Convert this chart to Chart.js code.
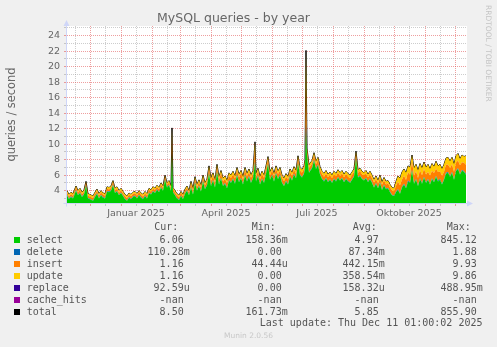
<!DOCTYPE html>
<html>
<head>
<meta charset="utf-8">
<script src="https://cdn.jsdelivr.net/npm/chart.js@4.4.1/dist/chart.umd.min.js"></script>
<style>
  body { margin: 0; background: #f0f0f0; }
  #wrap { position: relative; width: 497px; height: 347px; overflow: hidden; }
  #chart { position: absolute; left: 0; top: 0; }
  .mono { position: absolute; font: 10px 'DejaVu Sans Mono'; line-height: 12px; color: #555; white-space: pre; }
  .sw { position: absolute; width: 6px; height: 6px; }
  #rrd { position: absolute; left: 484px; top: 5px; writing-mode: vertical-rl; font: 7.5px 'DejaVu Sans'; color: #c4c4c4; }
  #munin { position: absolute; left: 0; top: 331px; width: 497px; text-align: center; font: 7.5px 'DejaVu Sans'; color: #c8c8c8; }
</style>
</head>
<body>
<div id="wrap">
  <canvas id="chart" width="497" height="347"></canvas>
  <div id="rrd">RRDTOOL / TOBI OETIKER</div>
  <div id="munin">Munin 2.0.56</div>
</div>
<script>
// x = days since 6 Nov 2024 (one pixel per day in the original)
const days = [
  0,2,4,6,9,11,13,15,17,19,21,23,26,
  28,30,32,34,36,38,40,42,44,46,48,50,52,
  54,56,58,60,62,64,66,68,70,72,74,76,78,
  80,82,84,86,88,90,92,94,96,98,100,102,104,
  105,106,108,110,112,114,116,118,120,122,
  124,126,128,130,132,134,136,138,140,
  142,144,146,148,150,152,154,156,158,160,162,164,166,168,170,172,174,176,178,180,182,184,186,
  188,
  189,191,193,195,197,199,201,203,205,207,209,211,213,215,217,219,221,223,225,227,229,231,233,235,237,
  238,239,240,
  242,245,247,249,251,253,255,257,259,261,263,265,267,269,271,273,275,277,279,281,283,285,287,289,291,293,295,297,299,301,303,305,307,309,311,313,315,317,319,321,323,325,327,
  329,331,
  333,335,337,339,341,343,345,347,349,351,353,355,357,359,361,363,365,367,369,371,373,375,377,379,381,383,385,387,389,391,393,395,397,
  399
];

const selectQ = [
  3.4,2.9,3.2,3.0,4.0,3.4,3.7,3.2,3.5,4.6,3.0,2.9,2.7,
  3.2,3.6,3.0,3.4,3.1,3.0,3.9,3.8,4.0,4.7,3.7,3.9,3.4,
  3.7,3.3,2.9,2.7,3.1,2.9,3.2,3.3,3.0,3.4,3.1,2.9,3.3,
  3.0,3.7,3.5,3.9,3.7,4.1,3.8,4.4,4.0,5.4,4.4,4.7,4.0,
  8.6,3.8,3.4,3.0,2.8,3.3,2.9,3.6,4.0,3.4,
  4.4,3.5,5.0,4.0,4.6,3.9,5.2,4.2,4.7,
  6.2,4.6,5.3,4.4,6.4,4.8,5.6,4.6,4.9,4.3,5.3,5.0,5.5,4.9,6.0,5.1,5.6,4.8,6.0,5.2,5.8,5.0,5.6,
  7.6,
  5.2,5.9,4.8,5.5,5.0,6.2,7.4,5.4,6.0,5.2,6.2,5.5,6.0,5.0,4.6,5.2,4.8,5.8,5.3,6.1,5.6,7.5,6.0,5.7,6.2,
  7.0,11.5,8.5,
  6.3,6.9,7.9,6.8,7.3,6.1,5.5,5.2,5.6,5.1,5.4,5.0,5.5,5.2,5.7,5.3,5.6,5.1,5.5,5.2,5.0,5.4,5.8,8.1,5.7,5.9,5.5,5.3,5.6,5.1,5.5,5.0,4.4,4.9,4.3,5.0,4.1,4.7,4.2,4.3,3.8,3.4,3.3,
  3.8,4.1,
  3.6,4.4,4.8,4.3,5.2,5.0,6.6,4.9,5.4,4.6,5.5,4.9,5.7,5.0,5.4,4.8,5.5,5.1,5.8,5.2,5.4,4.8,5.4,6.2,6.3,5.8,6.3,5.4,6.5,6.8,6.1,6.6,6.4,
  6.06
];

const deleteQ = [
  0.07,0.08,0.07,0.06,0.08,0.07,0.07,0.08,0.07,0.09,0.07,0.06,0.07,
  0.07,0.08,0.07,0.06,0.08,0.07,0.07,0.08,0.07,0.09,0.07,0.06,0.07,
  0.07,0.08,0.07,0.06,0.08,0.07,0.07,0.08,0.07,0.09,0.07,0.06,0.07,
  0.07,0.08,0.07,0.06,0.08,0.07,0.07,0.08,0.07,0.09,0.07,0.06,0.07,
  0.30,0.07,0.08,0.07,0.06,0.08,0.07,0.07,0.08,0.07,
  0.08,0.07,0.09,0.08,0.08,0.07,0.09,0.08,0.08,
  0.08,0.08,0.08,0.08,0.08,0.08,0.08,0.08,0.08,0.08,0.08,0.08,0.08,0.08,0.08,0.08,0.08,0.08,0.08,0.08,0.08,0.08,0.08,
  0.20,
  0.08,0.08,0.08,0.08,0.08,0.08,0.08,0.08,0.08,0.08,0.08,0.08,0.08,0.08,0.08,0.08,0.08,0.08,0.08,0.08,0.08,0.08,0.08,0.08,0.08,
  0.08,1.00,0.08,
  0.08,0.08,0.08,0.08,0.08,0.08,0.08,0.08,0.08,0.08,0.08,0.08,0.08,0.08,0.08,0.08,0.08,0.08,0.08,0.08,0.08,0.08,0.08,
  0.08,0.08,0.08,0.08,0.08,0.08,0.08,0.08,0.08,0.08,0.08,0.08,0.08,0.08,0.08,0.08,0.08,0.08,0.08,0.08,
  0.09,0.10,
  0.10,0.10,0.10,0.10,0.10,0.10,0.10,0.10,0.10,0.10,0.10,0.10,0.10,0.10,0.10,0.10,0.10,0.10,0.10,0.10,0.10,0.10,0.10,0.10,0.10,0.10,0.10,0.10,0.10,0.10,0.10,0.10,0.10,
  0.11
];

const insertQ = [
  0.30,0.27,0.31,0.29,0.34,0.30,0.32,0.28,0.30,0.36,0.29,0.28,0.27,
  0.30,0.27,0.31,0.29,0.34,0.30,0.32,0.28,0.30,0.36,0.29,0.28,0.27,
  0.30,0.27,0.31,0.29,0.34,0.30,0.32,0.28,0.30,0.36,0.29,0.28,0.27,
  0.30,0.27,0.31,0.29,0.34,0.30,0.32,0.28,0.30,0.36,0.29,0.28,0.27,
  2.00,0.30,0.27,0.31,0.29,0.34,0.30,0.32,0.28,0.30,
  0.42,0.43,0.41,0.40,0.44,0.43,0.40,0.42,0.42,
  0.55,0.52,0.58,0.54,0.60,0.53,0.56,0.51,0.55,0.57,0.54,0.56,0.52,0.58,0.55,0.53,0.57,0.54,0.56,0.55,0.52,0.58,0.55,
  1.50,
  0.55,0.52,0.58,0.54,0.60,0.53,0.56,0.51,0.55,0.57,0.54,0.56,0.52,0.58,0.55,0.53,0.57,0.54,0.56,0.55,0.52,0.58,0.55,0.54,0.56,
  0.55,5.00,0.55,
  0.55,0.52,0.58,0.54,0.60,0.53,0.56,0.51,0.55,0.57,0.54,0.56,0.52,0.58,0.55,0.53,0.57,0.54,0.56,0.55,0.52,0.58,0.55,
  0.55,0.52,0.58,0.54,0.60,0.53,0.56,0.51,0.55,0.57,0.54,0.56,0.52,0.58,0.55,0.53,0.57,0.54,0.56,0.55,
  0.75,0.95,
  1.00,0.95,1.05,0.98,1.08,0.96,1.10,0.97,1.02,0.94,1.06,0.99,1.04,
  1.00,0.95,1.05,0.98,1.08,0.96,1.10,0.97,1.02,0.94,1.06,0.99,1.04,
  1.00,0.95,1.05,0.98,1.08,0.96,1.10,
  1.16
];

const updateQ = [
  0.23,0.25,0.22,0.25,0.18,0.23,0.21,0.24,0.23,0.15,0.24,0.26,0.26,
  0.23,0.25,0.22,0.25,0.18,0.23,0.21,0.24,0.23,0.15,0.24,0.26,0.26,
  0.23,0.25,0.22,0.25,0.18,0.23,0.21,0.24,0.23,0.15,0.24,0.26,0.26,
  0.23,0.25,0.22,0.25,0.18,0.23,0.21,0.24,0.23,0.15,0.24,0.26,0.26,
  1.20,0.23,0.25,0.22,0.25,0.18,0.23,0.21,0.24,0.23,
  0.30,0.30,0.30,0.32,0.28,0.30,0.31,0.30,0.30,
  0.37,0.40,0.34,0.38,0.32,0.39,0.36,0.41,0.37,0.35,0.38,0.36,0.40,0.34,0.37,0.39,0.35,0.38,0.36,0.37,0.40,0.34,0.37,
  1.00,
  0.37,0.40,0.34,0.38,0.32,0.39,0.36,0.41,0.37,0.35,0.38,0.36,0.40,0.34,0.37,0.39,0.35,0.38,0.36,0.37,0.40,0.34,0.37,0.38,0.36,
  0.37,4.60,0.37,
  0.37,0.40,0.34,0.38,0.32,0.39,0.36,0.41,0.37,0.35,0.38,0.36,0.40,0.34,0.37,0.39,0.35,0.38,0.36,0.37,0.40,0.34,0.37,
  0.37,0.40,0.34,0.38,0.32,0.39,0.36,0.41,0.37,0.35,0.38,0.36,0.40,0.34,0.37,0.39,0.35,0.38,0.36,0.37,
  0.56,0.75,
  0.90,0.95,0.85,0.92,0.82,0.94,0.80,0.93,0.88,0.96,0.84,0.91,0.86,
  0.90,0.95,0.85,0.92,0.82,0.94,0.80,0.93,0.88,0.96,0.84,0.91,0.86,
  0.90,0.95,0.85,0.92,0.82,0.94,0.80,
  1.16
];

const totalQ = [
  4.0,3.5,3.8,3.6,4.6,4.0,4.3,3.8,4.1,5.2,3.6,3.5,3.3,
  3.8,4.2,3.6,4.0,3.7,3.6,4.5,4.4,4.6,5.3,4.3,4.5,4.0,
  4.3,3.9,3.5,3.3,3.7,3.5,3.8,3.9,3.6,4.0,3.7,3.5,3.9,
  3.6,4.3,4.1,4.5,4.3,4.7,4.4,5.0,4.6,6.0,5.0,5.3,4.6,
  12.1,4.4,4.0,3.6,3.4,3.9,3.5,4.2,4.6,4.0,
  5.2,4.3,5.8,4.8,5.4,4.7,6.0,5.0,5.5,
  7.2,5.6,6.3,5.4,7.4,5.8,6.6,5.6,5.9,5.3,6.3,6.0,6.5,5.9,7.0,6.1,6.6,5.8,7.0,6.2,6.8,6.0,6.6,
  10.3,
  6.2,6.9,5.8,6.5,6.0,7.2,8.4,6.4,7.0,6.2,7.2,6.5,7.0,6.0,5.6,6.2,5.8,6.8,6.3,7.1,6.6,8.5,7.0,6.7,7.2,
  8.0,22.1,9.5,
  7.3,7.9,8.9,7.8,8.3,7.1,6.5,6.2,6.6,6.1,6.4,6.0,6.5,6.2,6.7,6.3,6.6,6.1,6.5,6.2,6.0,6.4,6.8,9.1,6.7,6.9,6.5,6.3,6.6,6.1,6.5,6.0,5.4,5.9,5.3,6.0,5.1,5.7,5.2,5.3,4.8,4.4,4.3,
  5.2,5.9,
  5.6,6.4,6.8,6.3,7.2,7.0,8.6,6.9,7.4,6.6,7.5,6.9,7.7,7.0,7.4,6.8,7.5,7.1,7.8,7.2,7.4,6.8,7.4,8.2,8.3,7.8,8.3,7.4,8.5,8.8,8.1,8.6,8.4,
  8.5
];

// time axis: month boundaries, mid-month minor lines, labels
const monthStarts = [23.5, 54.5, 85.5, 113.5, 144.5, 174.5, 205.5, 235.5, 266.5, 297.5, 327.5, 358.5, 388.5];
const midMonths = [8, 38, 69, 100, 128, 159, 189, 220, 250, 281, 312, 342, 373];
const labelDays = [69, 159, 250, 342];
const labelTexts = ['Januar 2025', 'April 2025', 'Juli 2025', 'Oktober 2025'];
const yTicks = [3,4,5,6,7,8,9,10,11,12,13,14,15,16,17,18,19,20,21,22,23,24,25];

// legend table: name, colour, cur, min, avg, max
const legendRows = [
  ['select', '#00CC00', '6.06', '158.36m', '4.97', '845.12'],
  ['delete', '#0066B3', '110.28m', '0.00', '87.34m', '1.88'],
  ['insert', '#FF8000', '1.16', '44.44u', '442.15m', '9.93'],
  ['update', '#FFCC00', '1.16', '0.00', '358.54m', '9.86'],
  ['replace', '#330099', '92.59u', '0.00', '158.32u', '488.95m'],
  ['cache_hits', '#990099', '-nan', '-nan', '-nan', '-nan'],
  ['total', '#000000', '8.50', '161.73m', '5.85', '855.90']
];

[selectQ, deleteQ, insertQ, updateQ, totalQ].forEach((a, i) => {
  if (a.length !== days.length) throw new Error('series ' + i + ' has ' + a.length + ' values, days has ' + days.length);
});

const MAJOR = 'rgba(224,80,80,0.55)';
const MINOR = 'rgba(144,144,144,0.45)';
const AXIS = '#CFD6F8';
const FONT = '#666';

Chart.defaults.font.family = "'DejaVu Sans'";

const pts = arr => days.map((d, i) => ({ x: d, y: arr[i] }));
const isMonthStart = c => !!(c.tick && monthStarts.includes(c.tick.value));
const isEven = c => !!(c.tick && c.tick.value % 2 === 0);

// white canvas + rrdtool style axes with arrows
const frame = {
  id: 'frame',
  beforeDraw(c) {
    const { ctx, chartArea: a } = c;
    ctx.save();
    ctx.fillStyle = '#fff';
    ctx.fillRect(a.left, a.top, a.right - a.left, a.bottom - a.top);
    ctx.restore();
  },
  afterDraw(c) {
    const { ctx, chartArea: a } = c;
    const x0 = Math.round(a.left) - 0.5, y0 = Math.round(a.bottom) + 0.5;
    ctx.save();
    ctx.strokeStyle = AXIS;
    ctx.fillStyle = AXIS;
    ctx.lineWidth = 1;
    ctx.beginPath();
    ctx.moveTo(x0, y0 + 3); ctx.lineTo(x0, a.top - 2);
    ctx.moveTo(x0 - 3, y0); ctx.lineTo(a.right + 2, y0);
    ctx.stroke();
    ctx.beginPath();
    ctx.moveTo(x0, a.top - 6); ctx.lineTo(x0 - 3, a.top); ctx.lineTo(x0 + 3, a.top);
    ctx.closePath(); ctx.fill();
    ctx.beginPath();
    ctx.moveTo(a.right + 6, y0); ctx.lineTo(a.right, y0 - 3); ctx.lineTo(a.right, y0 + 3);
    ctx.closePath(); ctx.fill();
    ctx.restore();
  }
};

const area = (label, data, color, fill) => ({
  label, data: pts(data), backgroundColor: color, borderWidth: 0, fill, stack: 'q'
});

new Chart(document.getElementById('chart'), {
  type: 'line',
  data: {
    datasets: [
      area('select', selectQ, '#00CC00', 'start'),
      area('delete', deleteQ, '#0066B3', '-1'),
      area('insert', insertQ, '#FF8000', '-1'),
      area('update', updateQ, '#FFCC00', '-1'),
      { label: 'total', data: pts(totalQ), borderColor: '#000', borderWidth: 1, fill: false, stack: 't' }
    ]
  },
  options: {
    responsive: false,
    animation: false,
    devicePixelRatio: 1,
    layout: { padding: { left: 0, right: 30, top: 0, bottom: 120 } },
    elements: { point: { radius: 0 }, line: { tension: 0 } },
    plugins: {
      legend: { display: false },
      tooltip: { enabled: false },
      title: {
        display: true, text: 'MySQL queries - by year', color: FONT,
        font: { size: 12.5, weight: 'normal' }, padding: { top: 11, bottom: 0 }
      }
    },
    scales: {
      x: {
        type: 'linear', min: 0, max: 400,
        afterFit: s => { s.height = 24; },
        afterBuildTicks: s => {
          s.ticks = [...monthStarts, ...midMonths].sort((p, q) => p - q).map(v => ({ value: v }));
        },
        ticks: {
          autoSkip: false, maxRotation: 0, minRotation: 0, padding: 2, color: FONT,
          font: { size: 9.5 },
          callback: v => { const i = labelDays.indexOf(v); return i >= 0 ? labelTexts[i] : ''; }
        },
        grid: {
          color: c => isMonthStart(c) ? MAJOR : MINOR,
          tickColor: c => isMonthStart(c) ? MAJOR : MINOR,
          tickLength: 3
        },
        border: { display: false, dash: [1, 1] }
      },
      y: {
        stacked: true, min: 2.41, max: 25.25,
        afterFit: s => { s.width = 67; },
        afterBuildTicks: s => { s.ticks = yTicks.map(v => ({ value: v })); },
        ticks: {
          autoSkip: false, padding: 4, color: FONT, font: { size: 9.5 },
          callback: v => (v % 2 === 0 ? String(v) : '')
        },
        grid: {
          color: c => isEven(c) ? MAJOR : MINOR,
          tickColor: c => isEven(c) ? MAJOR : MINOR,
          tickLength: 3
        },
        border: { display: false, dash: [1, 1] },
        title: {
          display: true, text: 'queries / second', color: FONT,
          font: { size: 11.4 }, padding: { top: 5, bottom: 0 }
        }
      }
    }
  },
  plugins: [frame]
});

// legend table below the plot
const wrap = document.getElementById('wrap');
const addText = (text, left, top, right) => {
  const el = document.createElement('div');
  el.className = 'mono';
  el.textContent = text;
  el.style.top = top + 'px';
  if (right !== undefined) el.style.right = (497 - right) + 'px';
  else el.style.left = left + 'px';
  wrap.appendChild(el);
};
const headers = [['Cur:', 154.3], ['Min:', 251.7], ['Avg:', 352.7], ['Max:', 446.7]];
headers.forEach(([t, x]) => addText(t, x, 220.7));
const colRight = [189.7, 287.7, 384.7, 482.7];
legendRows.forEach((row, i) => {
  const top = 234 + i * 12;
  const sw = document.createElement('div');
  sw.className = 'sw';
  sw.style.left = '14px';
  sw.style.top = (top + 3) + 'px';
  sw.style.background = row[1];
  wrap.appendChild(sw);
  addText(row[0], 26.7, top);
  row.slice(2).forEach((v, j) => {
    const padded = /[0-9n]$/.test(v) ? v + ' ' : v;
    addText(padded, 0, top, colRight[j]);
  });
});
addText('Last update: Thu Dec 11 01:00:02 2025', 0, 317.3, 482.5);
</script>
</body>
</html>
